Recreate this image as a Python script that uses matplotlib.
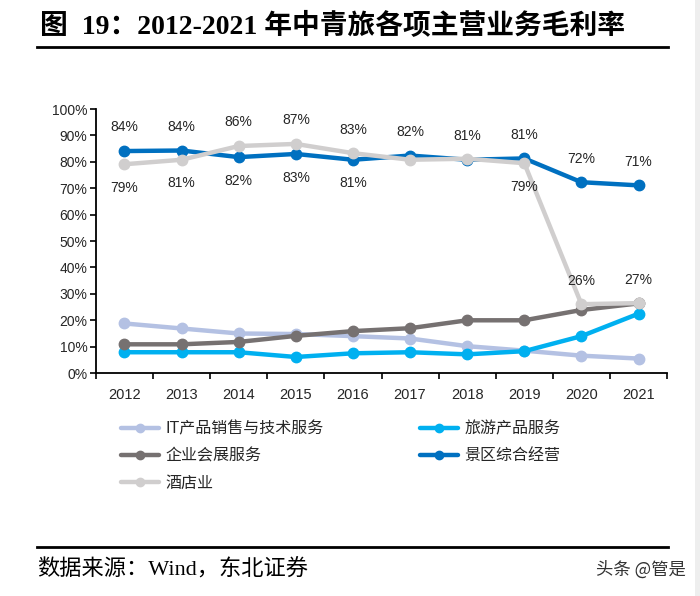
import numpy as np
import matplotlib.pyplot as plt
from matplotlib.patches import Rectangle

plt.rcParams['font.family'] = ['Liberation Sans', 'Noto Sans CJK SC']

years = ['2012', '2013', '2014', '2015', '2016', '2017', '2018', '2019', '2020', '2021']
it_sales = [18.8, 16.9, 15.0, 14.8, 14.0, 13.1, 10.2, 8.5, 6.6, 5.5]
travel = [7.9, 7.9, 7.9, 6.1, 7.5, 7.9, 7.1, 8.3, 14.0, 22.5]
conference = [10.9, 10.9, 11.8, 14.1, 15.9, 17.0, 20.0, 20.0, 23.9, 26.4]
scenic = [84.1, 84.3, 81.8, 83.0, 80.8, 82.4, 80.8, 81.3, 72.3, 71.1]
hotel = [79.1, 80.8, 86.0, 86.8, 83.3, 80.8, 81.2, 79.5, 26.1, 26.5]

# data labels shown in the chart (None = not shown), and side: 1 above, -1 below
scenic_labels = [84, 84, 82, 83, 81, 82, 81, 81, 72, 71]
scenic_side = [1, 1, -1, -1, -1, 1, 1, 1, 1, 1]
hotel_labels = [79, 81, 86, 87, 83, None, None, 79, 26, 27]
hotel_side = [-1, -1, 1, 1, 1, 1, 1, -1, 1, 1]

series = [
    ('IT产品销售与技术服务', it_sales, '#B4C1E3'),
    ('旅游产品服务', travel, '#00B0F0'),
    ('企业会展服务', conference, '#767171'),
    ('景区综合经营', scenic, '#0070C0'),
    ('酒店业', hotel, '#D0CECE'),
]

fig = plt.figure(figsize=(7, 5.96), dpi=100)
ax = fig.add_axes([0.137, 0.374, 0.816, 0.443])

x = np.arange(len(years))
handles = {}
for name, vals, col in series:
    h, = ax.plot(x, vals, '-o', color=col, lw=3.2, ms=7.5, label=name, solid_capstyle='round')
    handles[name] = h

for vals, labs, side in [(scenic, scenic_labels, scenic_side), (hotel, hotel_labels, hotel_side)]:
    for i, (v, lab, s) in enumerate(zip(vals, labs, side)):
        if lab is None:
            continue
        ax.annotate(f'{lab}%', (x[i], v), xytext=(0, 17 * s), textcoords='offset points',
                    ha='center', va='center', fontsize=10, color='#262626')

ax.set_xlim(-0.5, len(years) - 0.5)
ax.set_ylim(0, 100)
ax.set_yticks(np.arange(0, 101, 10))
ax.set_yticklabels([f'{v}%' for v in range(0, 101, 10)], fontsize=10, color='#262626')
ax.set_xticks(x)
ax.set_xticklabels(years, fontsize=10.5, color='#262626')
ax.set_xticks(np.arange(-0.5, len(years), 1), minor=True)
ax.tick_params(axis='x', which='major', length=0, pad=11)
ax.tick_params(axis='x', which='minor', length=4, width=1.2, direction='out')
ax.tick_params(axis='y', length=4, width=1.2, direction='out', pad=2)
for sp in ['top', 'right']:
    ax.spines[sp].set_visible(False)
for sp in ['left', 'bottom']:
    ax.spines[sp].set_linewidth(1.3)

order = ['IT产品销售与技术服务', '企业会展服务', '酒店业', '旅游产品服务', '景区综合经营']
leg = fig.legend([handles[n] for n in order], order, ncol=2, loc='upper left',
                 bbox_to_anchor=(0.152, 0.318), frameon=False, fontsize=11.5,
                 handlelength=2.4, handletextpad=0.4, labelspacing=0.75,
                 columnspacing=6.0, numpoints=1, markerscale=0.8)
for t in leg.get_texts():
    t.set_color('#262626')

# title, rules, source
fig.text(0.057, 0.955, '图  19：2012-2021 年中青旅各项主营业务毛利率',
         family=['Liberation Serif', 'Noto Sans CJK SC'], fontweight='bold',
         fontsize=20, va='center', ha='left')
fig.add_artist(plt.Line2D([0.053, 0.954], [0.921, 0.921], color='black', lw=2))
fig.add_artist(plt.Line2D([0.053, 0.954], [0.082, 0.082], color='black', lw=2))
fig.text(0.053, 0.044, '数据来源：Wind，东北证券',
         family=['Liberation Serif', 'Noto Sans CJK SC'], fontsize=16, va='center', ha='left')
fig.text(0.98, 0.044, '头条 @管是', family=['Noto Sans CJK SC', 'DejaVu Sans'],
         fontsize=12.5, va='center', ha='right', color='#333333')
fig.add_artist(Rectangle((0.993, 0), 0.007, 1, transform=fig.transFigure,
                         color='#EEEEEE', lw=0))

fig.savefig('out.png', dpi=100)
